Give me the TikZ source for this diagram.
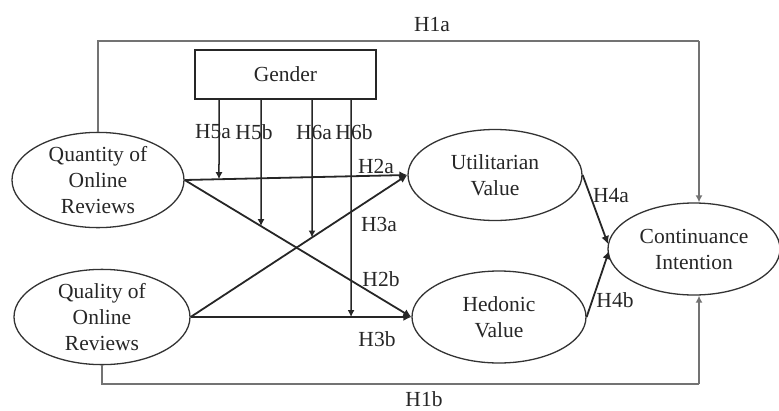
\documentclass[tikz,border=0pt]{standalone}
\usepackage{fontspec}
\setmainfont{Liberation Serif}
\usetikzlibrary{shapes.geometric,arrows.meta}
\begin{document}
\begin{tikzpicture}[x=1pt,y=-1pt,
  every node/.style={font=\fontsize{21.5}{26}\selectfont, text=black!85},
  oval/.style={draw=black!80, line width=1.3pt, ellipse, inner sep=0pt, align=center},
  rel/.style={draw=black!85, line width=1.8pt, -{Latex[length=8pt,width=8pt]}},
  modr/.style={draw=black!85, line width=1.5pt, -{Latex[length=7pt,width=7pt]}},
  frame/.style={draw=black!55, line width=1.4pt},
  lbl/.style={inner sep=0pt}]
\useasboundingbox (0,0) rectangle (779,410);
\node[oval, minimum width=172, minimum height=90] (q) at (98,180) {Quantity of\\Online\\Reviews};
\node[oval, minimum width=176, minimum height=92] (ql) at (102,317) {Quality of\\Online\\Reviews};
\node[oval, minimum width=174, minimum height=91] (u) at (495,175) {Utilitarian\\Value};
\node[oval, minimum width=174, minimum height=92] (h) at (499,317) {Hedonic\\Value};
\node[oval, minimum width=172, minimum height=92] (c) at (694,249) {Continuance\\Intention};
\node[draw=black!85, line width=1.6pt, minimum width=181, minimum height=49, inner sep=0pt] (g) at (285.5,74.5) {Gender};
% frame (H1a, H1b)
\coordinate (tl) at (98,41);
\coordinate (tr) at (699,41);
\coordinate (bl) at (102,384);
\coordinate (br) at (699,384);
\draw[frame] (q.north) -- (tl) -- (tr);
\draw[frame, -{Latex[length=7pt,width=7pt]}] (tr) -- (c.north -| tr);
\draw[frame] (ql.south) -- (bl) -- (br);
\draw[frame, -{Latex[length=7pt,width=7pt]}] (br) -- (c.south -| br);
% main paths
\draw[rel] (q.east) -- (u.west);
\draw[rel] (q.east) -- (h.west);
\draw[rel] (ql.east) -- (u.west);
\draw[rel] (ql.east) -- (h.west);
\coordinate (c4a) at (608,244);
\coordinate (c4b) at (609,251);
\draw[rel] (u.east) -- (c4a);
\draw[rel] (h.east) -- (c4b);
% gender moderation
\coordinate (g1) at (219,99);
\coordinate (g2) at (261,99);
\coordinate (g3) at (312,99);
\coordinate (g4) at (351,99);
\coordinate (m1) at (intersection of q.east--u.west and 219,0--219,400);
\coordinate (m2) at (intersection of q.east--h.west and 261,0--261,400);
\coordinate (m3) at (intersection of ql.east--u.west and 312,0--312,400);
\coordinate (m4) at (intersection of ql.east--h.west and 351,0--351,400);
\draw[modr] (g1) -- (m1);
\draw[modr] (g2) -- (m2);
\draw[modr] (g3) -- (m3);
\draw[modr] (g4) -- (m4);
% labels
\node[lbl] (l1a) at (432,25) {H1a};
\node[lbl] (l1b) at (424,399) {H1b};
\node[lbl] (l5a) at (213,132) {H5a};
\node[lbl] (l5b) at (254,132) {H5b};
\node[lbl] (l6a) at (314,132) {H6a};
\node[lbl] (l6b) at (354,132) {H6b};
\node[lbl] (l2a) at (376,166) {H2a};
\node[lbl] (l3a) at (379,224) {H3a};
\node[lbl] (l2b) at (381,279) {H2b};
\node[lbl] (l3b) at (377,339) {H3b};
\node[lbl] (l4a) at (611,196) {H4a};
\node[lbl] (l4b) at (615,300) {H4b};
\end{tikzpicture}
\end{document}
